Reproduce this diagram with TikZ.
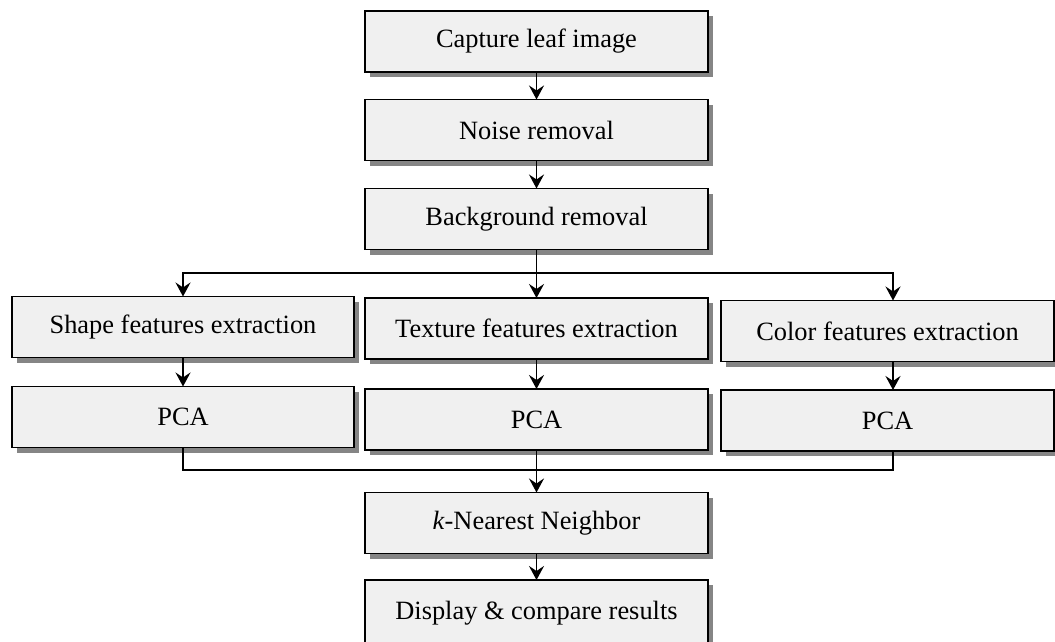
\documentclass[tikz,border=0pt]{standalone}
\usepackage{fontspec}
\setmainfont{Liberation Serif}
\usetikzlibrary{arrows.meta,shadows}
\definecolor{boxfill}{HTML}{F0F0F0}
\definecolor{shadowgray}{HTML}{858585}
\begin{document}
\begin{tikzpicture}[x=1pt,y=1pt,
  stagebox/.style={draw=black, line width=1.8pt, fill=boxfill,
    minimum height=61pt, inner sep=0pt, outer sep=0pt,
    font=\fontsize{26.4}{30}\selectfont,
    drop shadow={shadow xshift=5pt, shadow yshift=-5pt, fill=shadowgray, opacity=1}},
  wide/.style={stagebox, minimum width=343pt},
  link/.style={line width=1.5pt, draw=black},
  flow/.style={link, -{Stealth[length=14pt,width=15pt,inset=5pt]}}
]
\useasboundingbox (0,0) rectangle (1055,-641);

% main column
\node[wide] (cap)   at (536.5,-41.5) {Capture leaf image};
\node[wide] (noise) at (536.5,-130)  {Noise removal};
\node[wide] (bg)    at (536.5,-219)  {Background removal};

% three feature branches
\node[stagebox, minimum width=342pt] (shape)   at (183,-327)     {Shape features extraction};
\node[wide]                          (texture) at (536.5,-328.5) {Texture features extraction};
\node[stagebox, minimum width=333pt] (color)   at (887.5,-331)   {Color features extraction};

\node[stagebox, minimum width=342pt] (pcaL) at (183,-417)     {PCA};
\node[wide]                          (pcaM) at (536.5,-419.5) {PCA};
\node[stagebox, minimum width=333pt] (pcaR) at (887.5,-420.5) {PCA};

% classification and output (the last box runs past the lower edge)
\node[wide] (knn)  at (536.5,-523) {\textit{k}-Nearest Neighbor};
\node[wide, minimum height=66pt] (disp) at (536.5,-613) {Display \& compare results};

% split and merge points
\coordinate (split) at (536.5,-273);
\coordinate (merge) at (536.5,-470);

\draw[flow] (cap) -- (noise);
\draw[flow] (noise) -- (bg);
\draw[flow] (bg) -- (texture);
\draw[flow] (split) -| (shape.north);
\draw[flow] (split) -| ([xshift=5.5pt]color.north);

\draw[flow] (shape) -- (pcaL);
\draw[flow] (texture) -- (pcaM);
\draw[flow] ([xshift=5.5pt]color.south) -- ([xshift=5.5pt]pcaR.north);

\draw[link] (pcaL.south) |- (merge);
\draw[link] ([xshift=5.5pt]pcaR.south) |- (merge);
\draw[flow] (pcaM) -- (knn);
\draw[flow] (knn) -- (disp);
\end{tikzpicture}
\end{document}
